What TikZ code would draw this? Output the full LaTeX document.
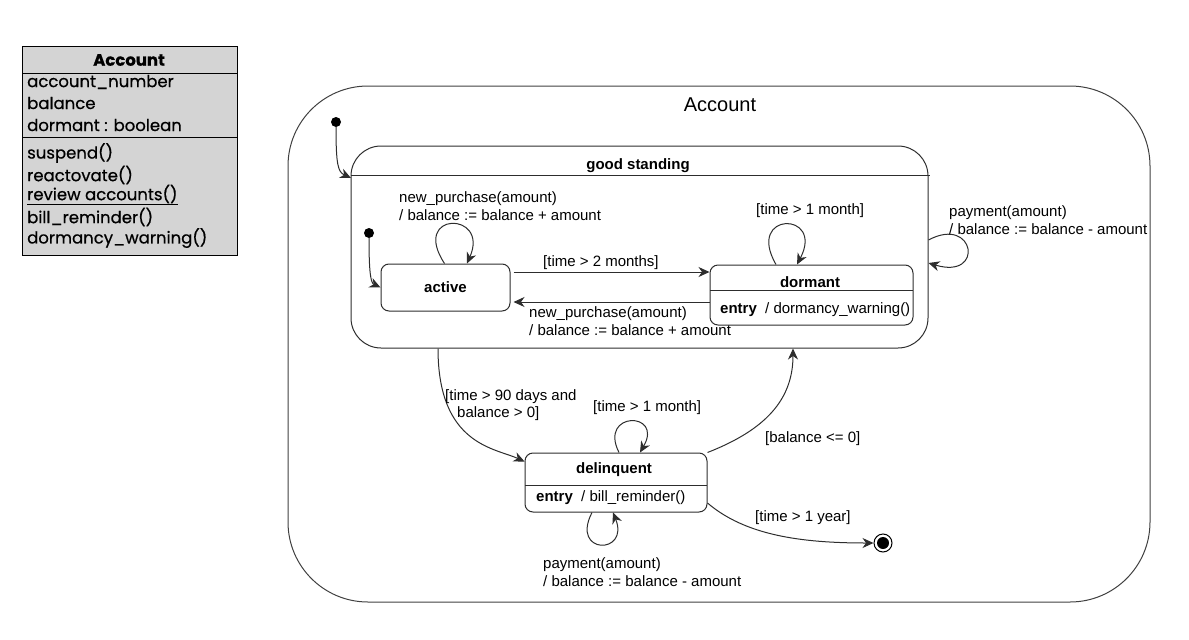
\documentclass[tikz,border=0pt]{standalone}
\usepackage{fontspec}
\setmainfont{Liberation Sans}
\newfontfamily\clsfont[FakeBold=0.6]{Poppins}
\usetikzlibrary{arrows.meta,positioning}
\definecolor{linegray}{RGB}{45,45,45}
\definecolor{boxgray}{RGB}{212,212,212}
\tikzset{
  state/.style={draw=linegray, line width=1pt, rounded corners=8pt, inner sep=0pt},
  lbl/.style={inner sep=0pt, anchor=west, align=left, font=\fontsize{15}{17.5}\selectfont},
  ttl/.style={inner sep=0pt, font=\bfseries\fontsize{15}{18}\selectfont},
  clstxt/.style={inner sep=0pt, anchor=west, font=\clsfont\fontsize{16.5}{18}\selectfont},
  trans/.style={draw=linegray, line width=1pt, ->},
  initdot/.style={circle, fill=black, inner sep=0pt, minimum size=10pt}
}
\newcommand{\sep}[3]{\draw[draw=linegray, line width=1pt] ( #1 , #3 ) -- ( #2 , #3 );}

\begin{document}
\begin{tikzpicture}[x=1pt,y=-1pt,>={Stealth[length=11pt,width=10pt,inset=3.5pt]}]
        \useasboundingbox (0,0) rectangle (1189,640);
        % class box
        \node[draw=black, fill=boxgray, line width=1pt, minimum width=215pt, minimum height=209pt, anchor=north west, inner sep=0pt] (cls) at (22,46) {};
        \draw[line width=1pt] (22,73) -- (237,73);
        \draw[line width=1pt] (22,137) -- (237,137);
        \node[clstxt, anchor=center, font=\clsfont\bfseries\fontsize{16.5}{18}\selectfont] (clsname) at (129,60) {Account};
        \node[clstxt] (attr1) at (27,82) {account\_number};
        \node[clstxt] (attr2) at (27,103) {balance};
        \node[clstxt] (attr3) at (27,125) {dormant : boolean};
        \node[clstxt] (op1) at (27,153) {suspend()};
        \node[clstxt] (op2) at (27,175) {reactovate()};
        \node[clstxt] (op3) at (27,195) {\underline{review accounts()}};
        \node[clstxt] (op4) at (27,217) {bill\_reminder()};
        \node[clstxt] (op5) at (27,238) {dormancy\_warning()};
        % outer state
        \node[state, draw=black!75, rounded corners=80pt, minimum width=862pt, minimum height=516pt] (acc) at (719,344) {};
        \node[inner sep=0pt, font=\fontsize{20}{24}\selectfont] (acctitle) at (720,105) {Account};
        \node[initdot] (init1) at (336,122) {};
        % good standing
        \node[state, rounded corners=30pt, minimum width=577pt, minimum height=202pt] (gs) at (639.5,247) {};
        \sep{351}{930}{175}
        \node[ttl] (gstitle) at (638,166) {good standing};
        \coordinate (gsin) at (351,178);
        \node[initdot] (init2) at (369,233) {};
        \node[state, minimum width=129pt, minimum height=47pt, font=\bfseries\fontsize{15}{18}\selectfont] (active) at (445.5,287.5) {active};
        \node[state, minimum width=203pt, minimum height=60pt] (dormant) at (811.5,295) {};
        \sep{710}{913}{290}
        \node[ttl] (dormanttitle) at (810,282) {dormant};
        \node[lbl] (dormantentry) at (720,310) {\textbf{entry} \ / dormancy\_warning()};
        % delinquent and final
        \node[state, minimum width=182pt, minimum height=59pt] (delinquent) at (616,482.5) {};
        \sep{525}{707}{485}
        \node[ttl] (deltitle) at (614,470) {delinquent};
        \node[lbl] (delentry) at (536,498) {\textbf{entry} \ / bill\_reminder()};
        \node[circle, draw=black, line width=1pt, minimum size=18pt, inner sep=0pt] (final) at (883,543) {};
        \fill[black] (final.center) circle (6pt);
        % transitions
        \draw[trans] (init1) .. controls (336,165) and (338,172) .. (gsin);
        \draw[trans] (init2) .. controls (369,275) and (371,283) .. (active.west);
        \draw[trans] ([xshift=-1pt]active.north) .. controls (410,211) and (490,211) .. ([xshift=21.5pt]active.north);
        \draw[trans] ([xshift=3pt,yshift=15.5pt]active.east) -- ([yshift=23pt]dormant.west);
        \draw[trans] ([yshift=-7pt]dormant.west) -- ([xshift=3pt,yshift=-14.5pt]active.east);
        \draw[trans] ([xshift=-35.5pt]dormant.north) .. controls (745,211) and (825,211) .. ([xshift=-14.5pt]dormant.north);
        \draw[trans] ([yshift=7pt]gs.east) .. controls (975,215) and (985,280) .. ([yshift=-16pt]gs.east);
        \draw[trans] ([xshift=-201.5pt]gs.south) .. controls (438,445) and (495,448) .. ([yshift=-9pt]delinquent.north west);
        \draw[trans] ([xshift=3pt]delinquent.north) .. controls (598,411) and (664,411) .. ([xshift=24pt]delinquent.north);
        \draw[trans] ([xshift=-24pt]delinquent.south) .. controls (570,555) and (630,555) .. ([xshift=-3pt]delinquent.south);
        \draw[trans] (delinquent.north east) .. controls (765,430) and (793,400) .. ([xshift=153.5pt]gs.south);
        \draw[trans] ([yshift=-20.5pt]delinquent.east) .. controls (745,535) and (800,543) .. (final.west);
        % labels
        \node[lbl] (activelooplbl) at (399,206) {new\_purchase(amount)\\/ balance := balance + amount};
        \node[lbl] (todormantlbl) at (543,263) {[time > 2 months]};
        \node[lbl] (toactivelbl) at (529,321) {new\_purchase(amount)\\/ balance := balance + amount};
        \node[lbl] (dormantlooplbl) at (756,211) {[time > 1 month]};
        \node[lbl] (gslooplbl) at (949,220) {payment(amount)\\/ balance := balance - amount};
        \node[lbl] (todellbl) at (445,405) {[time > 90 days and\\\hspace*{12pt}balance > 0]};
        \node[lbl] (dellooplbl) at (593,408) {[time > 1 month]};
        \node[lbl] (togslbl) at (765,439) {[balance <= 0]};
        \node[lbl] (tofinallbl) at (755,518) {[time > 1 year]};
        \node[lbl] (delpaylbl) at (543,572) {payment(amount)\\/ balance := balance - amount};
\end{tikzpicture}
\end{document}
